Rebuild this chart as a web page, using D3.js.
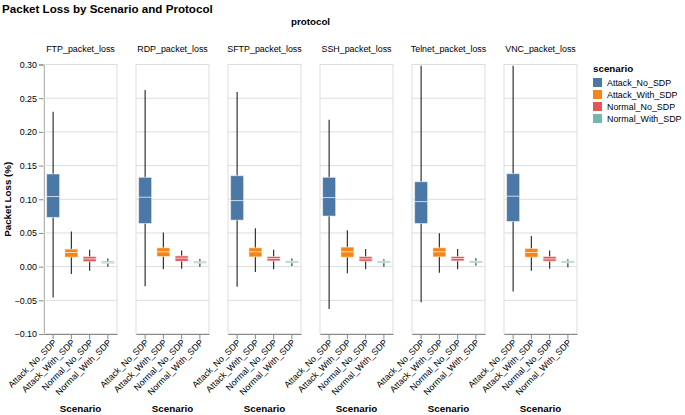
<!DOCTYPE html>
<html>
<head>
    <meta charset="utf-8">
    <script src="https://cdnjs.cloudflare.com/ajax/libs/d3/7.8.5/d3.min.js"></script>
    <style>
      body { margin: 0; background: #fff; }
      svg text { font-family: "Liberation Sans", Arial, sans-serif; }
    </style>
</head>
<body>
    <svg id="chart" width="685" height="415"></svg>
    <script>
      const protocols = ['FTP_packet_loss', 'RDP_packet_loss', 'SFTP_packet_loss', 'SSH_packet_loss', 'Telnet_packet_loss', 'VNC_packet_loss']
      const scenarios = ['Attack_No_SDP', 'Attack_With_SDP', 'Normal_No_SDP', 'Normal_With_SDP']
      const colors = ['#4c78a8', '#f58518', '#e45756', '#72b7b2']
      const yTicks = [-0.10, -0.05, 0.00, 0.05, 0.10, 0.15, 0.20, 0.25, 0.30]

      // one row per protocol, one value per scenario
      const whiskerLow = [
        [-0.046, -0.011, -0.006, 0.000],
        [-0.029, -0.004, -0.003, 0.000],
        [-0.030, -0.008, -0.004, 0.001],
        [-0.063, -0.010, -0.004, 0.000],
        [-0.053, -0.009, -0.004, 0.0015],
        [-0.037, -0.006, -0.003, -0.001]
      ]
      const q1 = [
        [0.073, 0.014, 0.0075, 0.0045],
        [0.064, 0.015, 0.008, 0.005],
        [0.069, 0.0145, 0.0085, 0.0055],
        [0.075, 0.014, 0.008, 0.0055],
        [0.064, 0.0145, 0.0085, 0.0055],
        [0.067, 0.014, 0.008, 0.0055]
      ]
      const median = [
        [0.104, 0.021, 0.0115, 0.006],
        [0.103, 0.022, 0.0125, 0.0065],
        [0.098, 0.022, 0.012, 0.007],
        [0.1025, 0.022, 0.0115, 0.007],
        [0.0965, 0.022, 0.012, 0.007],
        [0.1045, 0.021, 0.0115, 0.007]
      ]
      const q3 = [
        [0.1375, 0.026, 0.015, 0.008],
        [0.1325, 0.028, 0.016, 0.008],
        [0.135, 0.028, 0.015, 0.0085],
        [0.1325, 0.029, 0.015, 0.0085],
        [0.126, 0.028, 0.015, 0.0085],
        [0.138, 0.027, 0.015, 0.0085]
      ]
      const whiskerHigh = [
        [0.230, 0.052, 0.025, 0.012],
        [0.262, 0.0505, 0.024, 0.0115],
        [0.259, 0.057, 0.025, 0.012],
        [0.218, 0.054, 0.026, 0.011],
        [0.298, 0.0495, 0.026, 0.0125],
        [0.298, 0.0455, 0.024, 0.011]
      ]

      const svg = d3.select('#chart')
      const panelW = 73, gap = 19, left = 44
      const fs = 8.9, fsTitle = 9.8

      let fx = d3.scaleBand().domain(protocols)
        .range([left, left + protocols.length * panelW + (protocols.length - 1) * gap])
        .paddingInner(gap / (panelW + gap)).paddingOuter(0)
      let x = d3.scaleBand().domain(scenarios).range([0, panelW])
      let y = d3.scaleLinear().domain([-0.10, 0.30]).range([334, 64.5])
      let color = d3.scaleOrdinal().domain(scenarios).range(colors)

      svg.append('text').attr('x', 2).attr('y', 13)
        .style('font-size', '11.6px').style('font-weight', 'bold').text('Packet Loss by Scenario and Protocol')

      svg.append('text').attr('x', left + (5 * (panelW + gap) + panelW) / 2).attr('y', 25)
        .attr('text-anchor', 'middle').style('font-size', fsTitle + 'px').style('font-weight', 'bold').text('protocol')

      // y axis
      let yAxis = svg.append('g').attr('transform', 'translate(' + left + ',0)')
        .call(d3.axisLeft(y).tickValues(yTicks).tickFormat(d3.format('.2f')).tickSize(5).tickPadding(2))
      yAxis.select('.domain').attr('stroke', '#888')
      yAxis.selectAll('.tick line').attr('stroke', '#888')
      yAxis.selectAll('.tick text').style('font-size', fs + 'px').attr('fill', '#000')

      svg.append('text').attr('transform', 'translate(11,' + y(0.10) + ') rotate(-90)')
        .attr('text-anchor', 'middle').style('font-size', fsTitle + 'px').style('font-weight', 'bold').text('Packet Loss (%)')

      protocols.forEach(function(p, pi) {
        let g = svg.append('g').attr('transform', 'translate(' + fx(p) + ',0)')

        g.append('text').attr('x', panelW / 2).attr('y', 52).attr('text-anchor', 'middle')
          .style('font-size', fs + 'px').text(p)

        g.selectAll('.grid').data(yTicks).enter().append('line')
          .attr('x1', 0).attr('x2', panelW)
          .attr('y1', d => y(d)).attr('y2', d => y(d))
          .attr('stroke', '#ddd')

        g.append('rect').attr('x', 0).attr('y', y(0.30)).attr('width', panelW).attr('height', y(-0.10) - y(0.30))
          .attr('fill', 'none').attr('stroke', '#ddd')

        let xAxis = g.append('g').attr('transform', 'translate(0,' + y(-0.10) + ')')
          .call(d3.axisBottom(x).tickSize(5).tickSizeOuter(0))
        xAxis.select('.domain').attr('stroke', '#888')
        xAxis.selectAll('.tick line').attr('stroke', '#888')
        xAxis.selectAll('.tick text')
          .style('font-size', fs + 'px').attr('fill', '#000')
          .attr('text-anchor', 'end')
          .attr('dy', null).attr('y', 0)
          .attr('transform', 'translate(4,9) rotate(-45)')

        g.append('text').attr('x', panelW / 2).attr('y', 412).attr('text-anchor', 'middle')
          .style('font-size', fsTitle + 'px').style('font-weight', 'bold').text('Scenario')

        let boxW = 13
        let boxes = g.selectAll('.box').data(scenarios).enter().append('g')
          .attr('transform', d => 'translate(' + (x(d) + x.bandwidth() / 2) + ',0)')

        boxes.append('line')
          .attr('y1', (d, i) => y(whiskerLow[pi][i])).attr('y2', (d, i) => y(whiskerHigh[pi][i]))
          .attr('stroke', '#333').attr('stroke-width', 1.2)

        boxes.append('rect')
          .attr('x', -boxW / 2).attr('width', boxW)
          .attr('y', (d, i) => y(q3[pi][i]))
          .attr('height', (d, i) => y(q1[pi][i]) - y(q3[pi][i]))
          .attr('fill', d => color(d))
          .attr('stroke', 'rgba(255,255,255,0.5)').attr('stroke-width', 1)

        boxes.append('line')
          .attr('x1', -boxW / 2).attr('x2', boxW / 2)
          .attr('y1', (d, i) => y(median[pi][i])).attr('y2', (d, i) => y(median[pi][i]))
          .attr('stroke', 'rgba(255,255,255,0.7)').attr('stroke-width', 1)
      })

      // legend
      let legend = svg.append('g').attr('transform', 'translate(593,0)')
      legend.append('text').attr('x', 0).attr('y', 72).style('font-size', fsTitle + 'px').style('font-weight', 'bold').text('scenario')
      let items = legend.selectAll('.item').data(scenarios).enter().append('g')
        .attr('transform', (d, i) => 'translate(0,' + (82.5 + i * 12) + ')')
      items.append('rect').attr('x', 0).attr('y', -4.5).attr('width', 9).attr('height', 9).attr('fill', d => color(d))
      items.append('text').attr('x', 14).attr('y', 3.5).style('font-size', fs + 'px').text(d => d)
    </script>
</body>
</html>
